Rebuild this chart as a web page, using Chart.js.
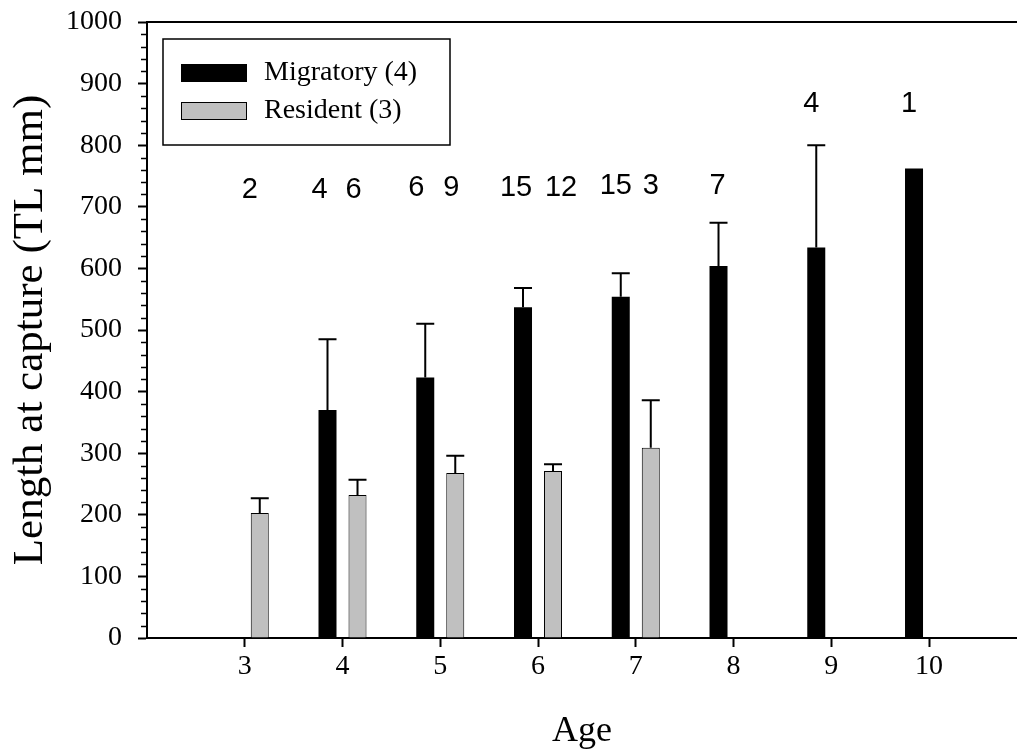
<!DOCTYPE html>
<html>
<head>
<meta charset="utf-8">
<script src="https://cdn.jsdelivr.net/npm/chart.js@4.4.1/dist/chart.umd.min.js"></script>
<style>
html, body { margin: 0; padding: 0; background: #fff; overflow: hidden; }
#wrap { width: 1017px; height: 753px; }
</style>
</head>
<body>
<div id="wrap"><canvas id="ageChart"></canvas></div>
<script>
const ages = [3, 4, 5, 6, 7, 8, 9, 10];
const migratoryMean = [null, 370, 423, 537, 554, 604, 634, 762];
const migratorySE = [null, 115, 87, 31, 38, 70, 166, null];
const residentMean = [203, 232, 268, 271, 309, null, null, null];
const residentSE = [24, 25, 28, 11, 77, null, null, null];
const migratoryN = [null, 4, 6, 15, 15, 7, 4, 1];
const residentN = [2, 6, 9, 12, 3, null, null, null];
const yTicks = [0, 100, 200, 300, 400, 500, 600, 700, 800, 900, 1000];

const serif = "'Liberation Serif', 'Times New Roman', serif";
const sans = "'Liberation Sans', Arial, sans-serif";

// error bars (upper only) + sample sizes above the bars
const extras = {
    id: "extras",
    afterDatasetsDraw(chart, args, opts) {
        const { ctx, scales: { y } } = chart;
        const errs = [migratorySE, residentSE];
        const ns = [migratoryN, residentN];
        chart.data.datasets.forEach((ds, i) => {
            const meta = chart.getDatasetMeta(i);
            meta.data.forEach((bar, j) => {
                const mean = ds.data[j].y;
                if (mean == null) return;
                const se = errs[i][j];
                if (se != null) {
                    const top = y.getPixelForValue(mean + se);
                    const half = bar.width / 2;
                    ctx.save();
                    ctx.strokeStyle = "#000";
                    ctx.lineWidth = 2;
                    ctx.beginPath();
                    ctx.moveTo(bar.x, bar.y);
                    ctx.lineTo(bar.x, top);
                    ctx.moveTo(bar.x - half, top);
                    ctx.lineTo(bar.x + half, top);
                    ctx.stroke();
                    ctx.restore();
                }
                const n = ns[i][j];
                if (n != null) {
                    ctx.save();
                    ctx.fillStyle = "#000";
                    ctx.font = "29px " + sans;
                    ctx.textAlign = "center";
                    ctx.textBaseline = "middle";
                    ctx.fillText(String(n), bar.x + opts.dx[i][j], y.getPixelForValue(opts.labelY[j]));
                    ctx.restore();
                }
            });
        });
    },
    afterDraw(chart) {
        const { ctx, chartArea: a, scales: { y } } = chart;
        ctx.save();
        ctx.strokeStyle = "#000";
        ctx.lineWidth = 2;
        // top frame line
        ctx.beginPath();
        ctx.moveTo(a.left, a.top);
        ctx.lineTo(a.right, a.top);
        ctx.stroke();
        // minor y ticks
        ctx.lineWidth = 1.5;
        ctx.beginPath();
        for (let v = 0; v <= 1000; v += 20) {
            if (v % 100 === 0) continue;
            const py = Math.round(y.getPixelForValue(v)) + 0.5;
            ctx.moveTo(a.left - 6, py);
            ctx.lineTo(a.left, py);
        }
        ctx.stroke();
        // legend box
        const bx = a.left + 16, by = a.top + 17, bw = 287, bh = 106;
        ctx.fillStyle = "#fff";
        ctx.fillRect(bx, by, bw, bh);
        ctx.lineWidth = 1.5;
        ctx.strokeRect(bx, by, bw, bh);
        ctx.font = "28px " + serif;
        ctx.textBaseline = "middle";
        chart.data.datasets.forEach((ds, i) => {
            const sy = by + 25 + i * 38;
            ctx.fillStyle = ds.backgroundColor;
            ctx.fillRect(bx + 18, sy, 66, 18);
            ctx.lineWidth = 1;
            ctx.strokeStyle = "#000";
            ctx.strokeRect(bx + 18.5, sy + 0.5, 65, 17);
            ctx.fillStyle = "#000";
            ctx.fillText(ds.label, bx + 101, sy + 9);
        });
        ctx.restore();
    }
};

new Chart(document.getElementById("ageChart"), {
    type: "bar",
    data: {
        datasets: [
            {
                label: "Migratory (4)",
                data: ages.map((a, i) => ({ x: a, y: migratoryMean[i] })),
                backgroundColor: "#000000",
                borderWidth: 0,
            },
            {
                label: "Resident (3)",
                data: ages.map((a, i) => ({ x: a, y: residentMean[i] })),
                backgroundColor: "#c0c0c0",
                borderColor: "#000000",
                borderWidth: 1,
            },
        ],
    },
    options: {
        responsive: true,
        maintainAspectRatio: false,
        animation: false,
        categoryPercentage: 0.614,
        barPercentage: 0.6,
        layout: { padding: { top: 22, left: 0, right: 0, bottom: 0 } },
        plugins: {
            legend: { display: false },
            tooltip: { enabled: false },
            extras: {
                labelY: [727, 727, 730, 730, 734, 734, 867, 867],
                dx: [
                    [0, -8, -9, -7, -5, -1, -5, -5],
                    [-10, -4, -4, 8, 0, 0, 0, 0],
                ],
            },
        },
        scales: {
            x: {
                type: "linear",
                min: 2,
                max: 10.9,
                offset: false,
                afterBuildTicks: (s) => { s.ticks = ages.map((v) => ({ value: v })); },
                afterFit: (s) => { s.height = 115; },
                ticks: {
                    color: "#000",
                    font: { family: serif, size: 28 },
                    padding: 3,
                    callback: (v) => String(v),
                },
                grid: { drawOnChartArea: false, offset: false, tickLength: 9, tickWidth: 2, tickColor: "#000" },
                border: { color: "#000", width: 2 },
                title: {
                    display: true,
                    text: "Age",
                    color: "#000",
                    font: { family: serif, size: 36 },
                    padding: { top: 0, bottom: 0 },
                },
            },
            y: {
                min: 0,
                max: 1000,
                afterBuildTicks: (s) => { s.ticks = yTicks.map((v) => ({ value: v })); },
                afterFit: (s) => {
                    s.width = 147;
                    s.paddingTop = 0;
                    s.paddingBottom = 0;
                },
                ticks: {
                    color: "#000",
                    font: { family: serif, size: 28 },
                    padding: 16,
                    callback: (v) => String(v),
                },
                grid: { drawOnChartArea: false, tickLength: 9, tickWidth: 2, tickColor: "#000" },
                border: { color: "#000", width: 2 },
                title: {
                    display: true,
                    text: "Length at capture (TL mm)",
                    color: "#000",
                    font: { family: serif, size: 43 },
                    padding: { top: 5, bottom: 0 },
                },
            },
        },
    },
    plugins: [extras],
});
</script>
</body>
</html>
